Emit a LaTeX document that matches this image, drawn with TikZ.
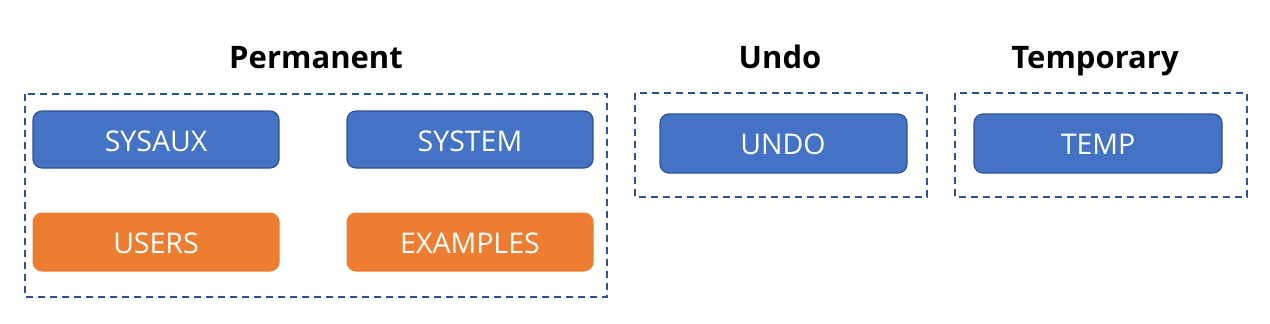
\documentclass[tikz,border=0pt]{standalone}
\usepackage{fontspec}
\setmainfont{Open Sans}
\definecolor{blueF}{HTML}{4472C4}
\definecolor{blueD}{HTML}{2F528F}
\definecolor{orangeF}{HTML}{ED7D31}
\begin{document}
\begin{tikzpicture}[x=1pt,y=-1pt,
  groupbox/.style={draw=blueD, line width=1.6pt, dash pattern=on 7pt off 5pt},
  bluebox/.style={draw=blueD, line width=1.2pt, fill=blueF, rounded corners=9pt},
  orangebox/.style={draw=orangeF, line width=1pt, fill=orangeF, rounded corners=9pt},
  lbl/.style={text=white, anchor=base, font=\fontsize{28.5}{32}\selectfont},
  ttl/.style={font=\bfseries\fontsize{31}{36}\selectfont, anchor=base, text=black}]
\useasboundingbox (0,0) rectangle (1270,324);
\fill[white] (0,0) rectangle (1270,324);
% group boxes
\draw[groupbox] (25,94) rectangle (607,297);
\draw[groupbox] (635,93) rectangle (927,197);
\draw[groupbox] (955,93) rectangle (1247,197);
% titles
\node[ttl] (tperm) at (316,68) {Permanent};
\node[ttl] (tundo) at (780,68) {Undo};
\node[ttl] (ttemp) at (1095,68) {Temporary};
% boxes
\draw[bluebox] (33,111) rectangle (279,168);
\node[lbl] (sysaux) at (156,151) {SYSAUX};
\draw[bluebox] (347,111) rectangle (593,168);
\node[lbl] (system) at (470,151) {SYSTEM};
\draw[orangebox] (33,213) rectangle (279,271);
\node[lbl] (users) at (156,253) {USERS};
\draw[orangebox] (347,213) rectangle (593,271);
\node[lbl] (examples) at (470,253) {EXAMPLES};
\draw[bluebox] (660,114) rectangle (907,173);
\node[lbl] (undo) at (783,154) {UNDO};
\draw[bluebox] (974,114) rectangle (1222,173);
\node[lbl] (temp) at (1098,154) {TEMP};
\end{tikzpicture}
\end{document}
